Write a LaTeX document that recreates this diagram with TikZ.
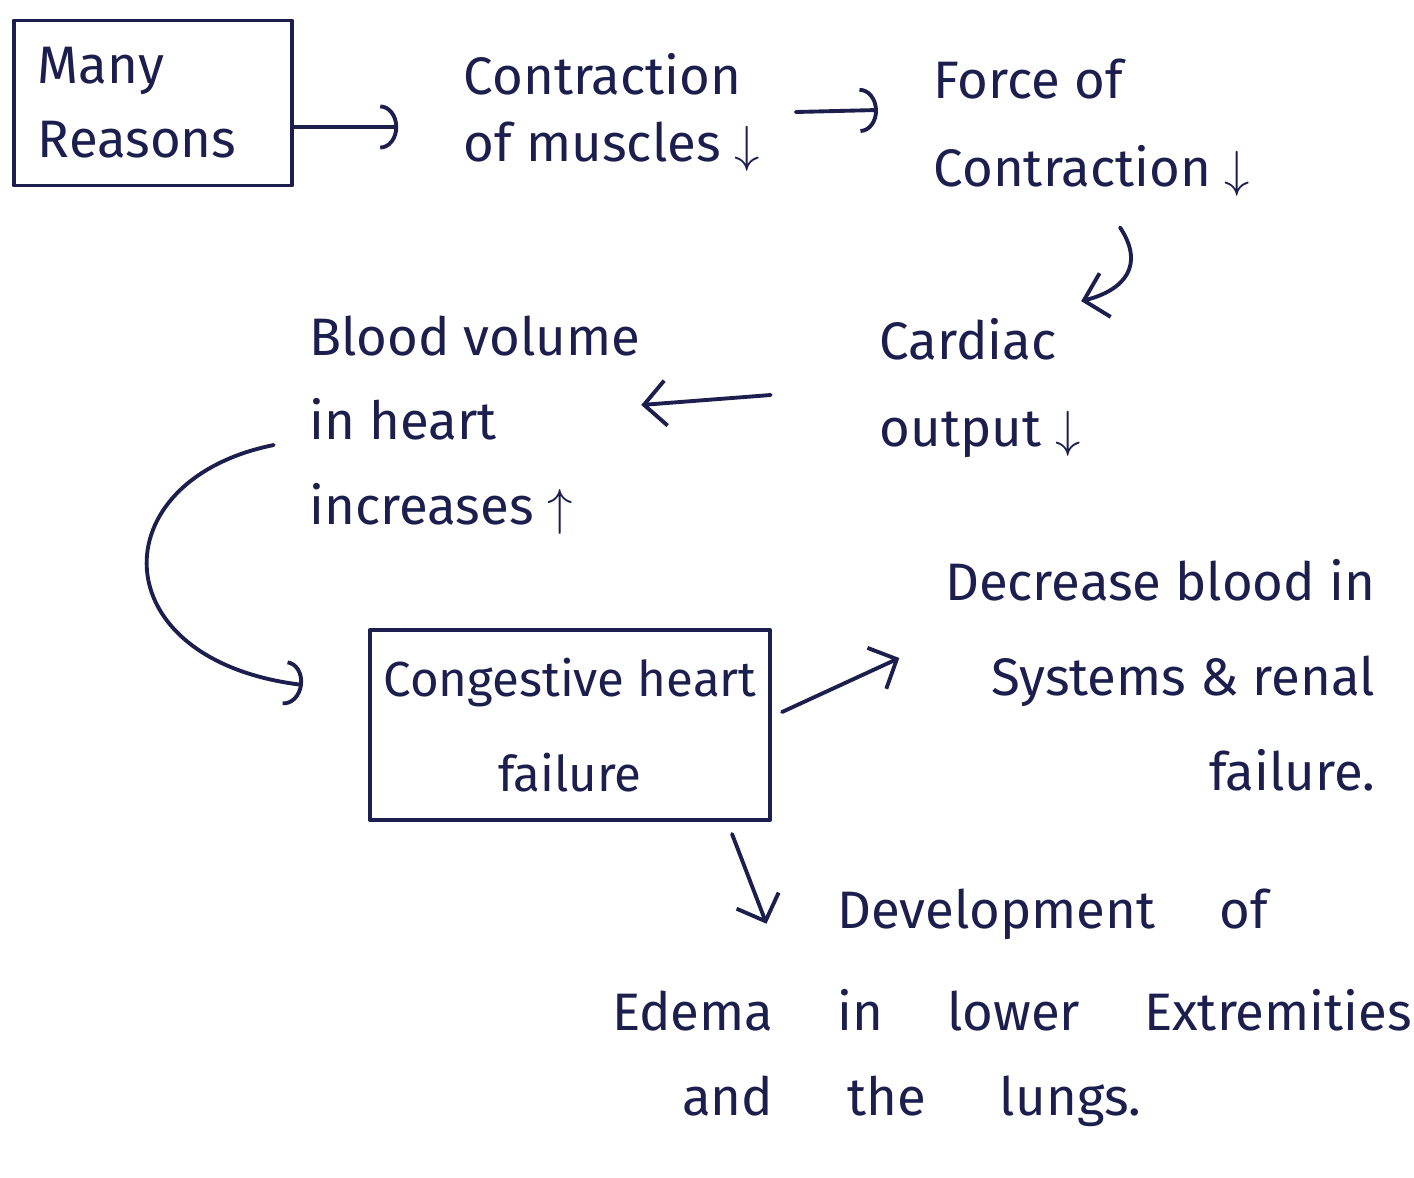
\documentclass[tikz,border=0pt]{standalone}
\usepackage{fontspec}
\setmainfont{Fira Sans}
\usetikzlibrary{arrows.meta}
\definecolor{ink}{HTML}{1C1F4E}
\newcommand{\gap}[1]{\hspace{#1}}
\begin{document}
\begin{tikzpicture}[x=0.01cm,y=-0.01cm,
  inkline/.style={draw=ink, line width=1.1pt, line cap=round, line join=round},
  flow/.style={inkline, -{Arc Barb[length=1.8mm,width=4.5mm]}},
  flowv/.style={inkline, -{Straight Barb[length=2.2mm,width=4.5mm]}},
  label/.style={text=ink, font=\fontsize{15}{19}\selectfont, inner sep=0pt},
  box/.style={inkline, text=ink, font=\fontsize{15}{21}\selectfont, inner sep=0pt},
]
\useasboundingbox (0,0) rectangle (1414,1178);
\fill[white] (0,0) rectangle (1414,1178);

% boxes
\node[box, minimum width=2.78cm, minimum height=1.65cm, align=left, text width=2.3cm]
  (reasons) at (153,103) {Many\\Reasons};
\node[box, minimum width=4.0cm, minimum height=1.9cm, align=center,
      font=\fontsize{14}{21}\selectfont]
  (chf) at (570,725) {Congestive heart\\[6pt]failure};

% statements
\node[label, align=left] (contraction) at (612,112) {Contraction\\of muscles $\downarrow$};
\node[label, align=left] (force) at (1092,128) {Force of\\[6pt]Contraction $\downarrow$};
\node[label, align=left] (cardiac) at (980,388) {Cardiac\\[6pt]output $\downarrow$};
\node[label, align=left, font=\fontsize{15}{24}\selectfont] (blood) at (475,425)
  {Blood volume\\in heart\\increases $\uparrow$};
\node[label, align=right, font=\fontsize{15}{27}\selectfont] (decrease) at (1160,675)
  {Decrease blood in\\Systems \& renal\\failure.};
\node[label, align=left, font=\fontsize{15}{29}\selectfont] (edema) at (1012,1008)
  {\gap{2.25cm}Development\gap{0.5cm} of\\
   Edema\gap{0.5cm} in\gap{0.5cm} lower\gap{0.5cm} Extremities\\[-5pt]
   \gap{0.7cm}and\gap{0.6cm} the\gap{0.6cm} lungs.};

% connectors
\draw[flow] ([yshift=-0.24cm]reasons.east) -- ([yshift=-0.15cm,xshift=-0.65cm]contraction.west);
\draw[flow] ([xshift=0.35cm]contraction.east) -- ([yshift=0.18cm,xshift=-0.55cm]force.west);
\draw[flowv] ([xshift=0.28cm,yshift=-0.3cm]force.south)
  .. controls (1145,265) and (1125,290) .. ([xshift=0cm,yshift=0.16cm]cardiac.north east);
\draw[flowv] ([xshift=-1.08cm,yshift=-0.07cm]cardiac.west) -- ([xshift=0cm,yshift=0.2cm]blood.east);
\draw[flow] ([xshift=-0.35cm,yshift=-0.2cm]blood.west)
  .. controls (100,480) and (100,660) .. ([xshift=-0.65cm,yshift=0.4cm]chf.west);
\draw[flowv] ([xshift=0.1cm,yshift=0.13cm]chf.east) -- ([xshift=-0.45cm,yshift=0.17cm]decrease.west);
\draw[flowv] ([xshift=-0.4cm,yshift=-0.12cm]chf.south east) -- ([xshift=1.55cm,yshift=-0.35cm]edema.north west);
\end{tikzpicture}
\end{document}
